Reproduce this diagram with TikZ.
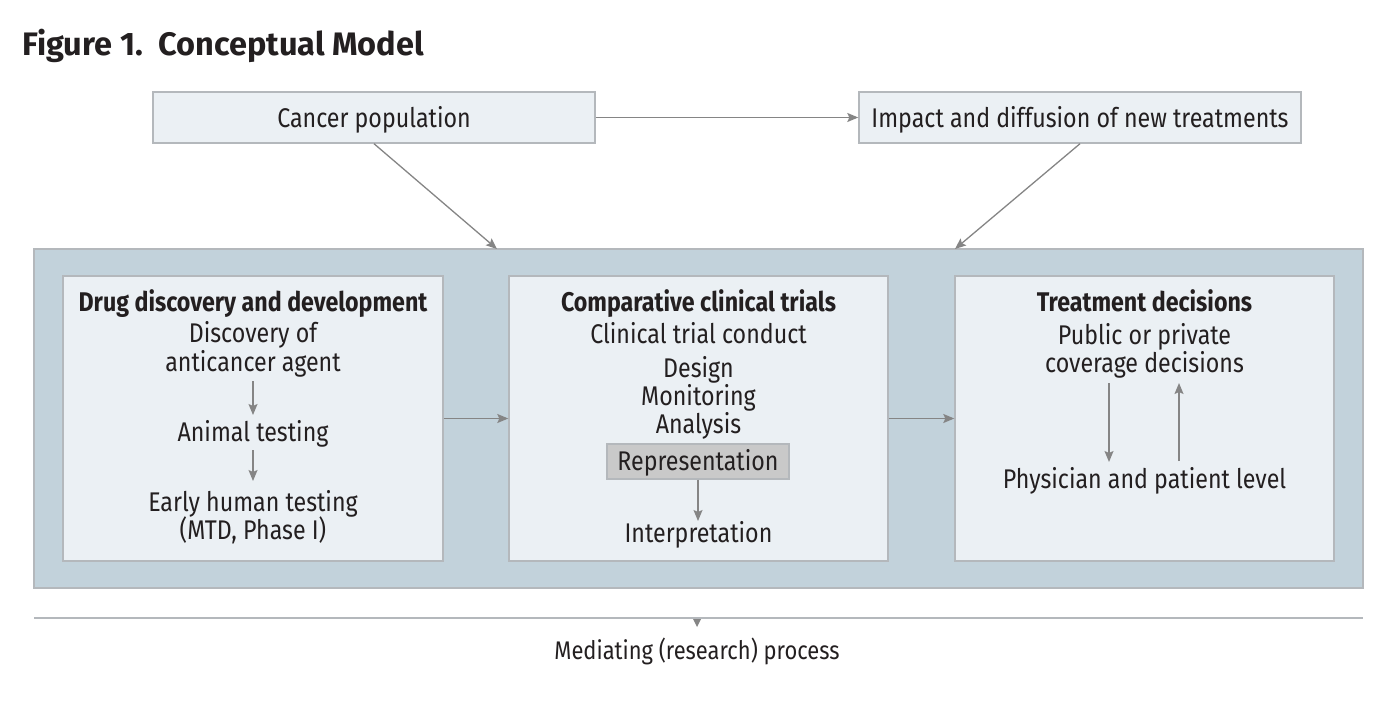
\documentclass[tikz,border=0pt]{standalone}
\usepackage{fontspec}
\setmainfont{Fira Sans}[FakeStretch=0.86]
\newfontfamily\titlefont{Fira Sans}
\usetikzlibrary{arrows.meta}
\definecolor{txt}{HTML}{231F20}
\definecolor{boxfill}{HTML}{EBF0F4}
\definecolor{boxline}{HTML}{B4B8BC}
\definecolor{outerfill}{HTML}{C2D2DB}
\definecolor{arr}{HTML}{858585}
\definecolor{repfill}{HTML}{C9C9C9}
\tikzset{
  lbox/.style={draw=boxline, line width=1.4pt, fill=boxfill, inner sep=0pt},
  obox/.style={draw=boxline, line width=1.4pt, fill=outerfill, inner sep=0pt},
  tx/.style={text=txt, font=\fontsize{27}{30}\selectfont, inner sep=0pt, anchor=base},
  hd/.style={text=txt, font=\fontsize{27}{30}\selectfont\bfseries, inner sep=0pt, anchor=base},
  conn/.style={draw=arr, line width=1.3pt, -{Stealth[length=11pt,width=9pt,inset=2pt]}},
}
\begin{document}
\begin{tikzpicture}[x=1pt,y=-1pt]
\useasboundingbox (0,0) rectangle (1400,712);
% title
\node[text=txt, font=\titlefont\fontsize{32.5}{36}\selectfont\bfseries, anchor=base west, inner sep=0pt] (title) at (22,55) {Figure 1.\ \ Conceptual Model};
% top boxes
\node[lbox, minimum width=442pt, minimum height=51pt] (cancer) at (374,117.5) {};
\node[tx] (cancertx) at (374,127) {Cancer population};
\node[lbox, minimum width=442pt, minimum height=51pt] (impact) at (1080,117.5) {};
\node[tx] (impacttx) at (1080,127) {Impact and diffusion of new treatments};
% outer
\node[obox, minimum width=1329pt, minimum height=339pt] (outer) at (698.5,418.5) {};
\coordinate (in1) at (497,249);
\coordinate (in2) at (955,249);
% inner boxes
\node[lbox, minimum width=380pt, minimum height=285pt] (left) at (253,418.5) {};
\node[lbox, minimum width=379pt, minimum height=285pt] (mid) at (698.5,418.5) {};
\node[lbox, minimum width=379pt, minimum height=285pt] (right) at (1144.5,418.5) {};
% connectors top
\draw[conn] (cancer.east) -- (impact.west);
\draw[conn] (cancer.south) -- (in1);
\draw[conn] (impact.south) -- (in2);
\draw[conn] (left.east) -- (mid.west);
\draw[conn] (mid.east) -- (right.west);
% left box text
\node[hd] (lh) at (253,311) {Drug discovery and development};
\node[tx] (l1) at (253,342) {Discovery of};
\node[tx] (l2) at (253,371) {anticancer agent};
\node[tx] (l3) at (253,441) {Animal testing};
\node[tx] (l4) at (253,511) {Early human testing};
\node[tx] (l5) at (253,539) {(MTD, Phase I)};
\coordinate (la1) at (253,381);
\coordinate (la2) at (253,415);
\coordinate (lb1) at (253,450);
\coordinate (lb2) at (253,481);
\draw[conn] (la1) -- (la2);
\draw[conn] (lb1) -- (lb2);
% middle box text
\node[hd] (mh) at (698.5,311) {Comparative clinical trials};
\node[tx] (m1) at (698.5,343) {Clinical trial conduct};
\node[tx] (m2) at (698.5,377) {Design};
\node[tx] (m3) at (698.5,405) {Monitoring};
\node[tx] (m4) at (698.5,433) {Analysis};
\node[draw=boxline, line width=1.2pt, fill=repfill, minimum width=182pt, minimum height=35pt, inner sep=0pt] (rep) at (698,461.5) {};
\node[tx] (reptx) at (698,470.5) {Representation};
\node[tx] (m5) at (698.5,542) {Interpretation};
\coordinate (ma) at (698,521);
\draw[conn] (rep.south) -- (ma);
% right box text
\node[hd] (rh) at (1144.5,311) {Treatment decisions};
\node[tx] (r1) at (1144.5,344) {Public or private};
\node[tx] (r2) at (1144.5,372) {coverage decisions};
\node[tx] (r3) at (1144.5,488) {Physician and patient level};
\coordinate (ra1) at (1109,383);
\coordinate (ra2) at (1109,462);
\coordinate (rb1) at (1179,461);
\coordinate (rb2) at (1179,383);
\draw[conn] (ra1) -- (ra2);
\draw[conn] (rb1) -- (rb2);
% bottom
\coordinate (bl) at (34,618);
\coordinate (br) at (1363,618);
\draw[draw=boxline, line width=2.2pt] (bl) -- (br);
\fill[arr] (693,619) -- (701,619) -- (697,627) -- cycle;
\node[text=txt, font=\fontsize{25.5}{28}\selectfont, inner sep=0pt, anchor=base] (med) at (697,659) {Mediating (research) process};
\end{tikzpicture}
\end{document}
